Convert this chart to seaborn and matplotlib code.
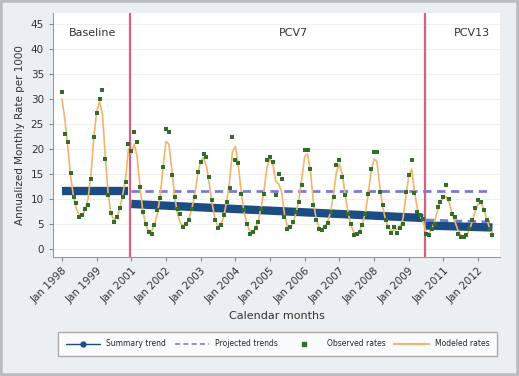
import numpy as np
import pandas as pd
import matplotlib
matplotlib.use("Agg")
import matplotlib.pyplot as plt
import seaborn as sns
from matplotlib.lines import Line2D
from matplotlib.patches import Rectangle

# month index with transition years removed (2000 and mid-2009..mid-2010)
observed = [
    31.4, 23.1, 21.5, 15.2, 10.5, 9.2, 6.5, 6.8, 8.0, 8.8, 14.1, 22.5,
    27.2, 30.1, 31.8, 18.0, 10.8, 7.2, 5.5, 6.5, 8.2, 10.5, 13.5, 21.0,
    19.7, 23.5, 21.5, 12.5, 7.5, 5.1, 3.5, 3.0, 4.8, 7.8, 10.2, 16.5,
    24.1, 23.4, 14.8, 10.5, 8.0, 7.0, 4.5, 5.0, 5.8, 8.0, 10.5, 15.5,
    17.5, 19.0, 18.5, 14.5, 9.8, 5.8, 4.2, 4.8, 6.8, 9.5, 12.2, 22.5,
    17.8, 17.3, 11.1, 7.8, 5.1, 3.1, 3.4, 4.3, 5.5, 8.0, 11.1, 17.8,
    18.5, 17.5, 10.8, 15.1, 14.1, 6.5, 4.1, 4.5, 5.5, 7.5, 9.5, 12.8,
    19.8, 19.9, 16.1, 8.8, 5.8, 4.1, 3.9, 4.5, 5.2, 7.5, 10.5, 16.8,
    17.8, 14.5, 10.8, 7.1, 5.1, 2.8, 3.0, 3.5, 4.8, 7.1, 11.0, 16.1,
    19.5, 19.5, 11.5, 8.8, 5.8, 4.5, 3.3, 4.5, 3.3, 4.2, 5.1, 11.5,
    14.8, 17.8, 11.2, 7.5, 6.8, 6.0,
    3.1, 2.8, 4.0, 5.1, 8.5, 9.5, 10.5, 12.8, 10.1, 7.1, 6.5, 3.1,
    2.5, 2.5, 2.8, 4.0, 5.8, 8.2, 9.8, 9.5, 7.8, 5.8, 4.0, 2.8,
]
modeled = [
    30.0, 26.0, 20.5, 14.5, 10.5, 8.0, 6.8, 6.8, 7.8, 10.0, 14.5, 22.0,
    27.5, 29.5, 27.0, 18.5, 11.0, 7.0, 5.8, 6.3, 8.0, 10.8, 14.0, 20.0,
    19.0, 21.0, 18.5, 12.5, 7.5, 4.8, 3.5, 3.5, 4.8, 7.0, 10.5, 16.5,
    21.5, 21.0, 16.0, 10.5, 7.0, 5.2, 4.6, 5.0, 6.2, 8.2, 11.0, 15.0,
    17.5, 18.3, 16.5, 13.0, 9.0, 6.0, 4.6, 4.8, 6.5, 9.5, 13.5, 19.5,
    20.5, 17.0, 11.5, 7.5, 5.0, 3.6, 3.4, 4.2, 5.8, 8.5, 12.0, 16.5,
    18.0, 17.0, 13.5, 13.0, 11.5, 7.0, 4.5, 4.2, 5.2, 7.2, 9.8, 14.0,
    18.5, 19.0, 15.5, 9.5, 6.0, 4.3, 4.0, 4.5, 5.5, 7.5, 11.0, 15.5,
    17.0, 15.0, 11.0, 7.3, 4.8, 3.3, 3.0, 3.6, 5.0, 7.3, 11.0, 15.5,
    18.0, 17.5, 12.5, 8.5, 5.8, 4.3, 3.6, 3.8, 4.0, 4.5, 6.0, 10.5,
    14.5, 16.0, 11.5, 8.0, 6.5, 5.5,
    3.2, 3.2, 4.0, 5.5, 7.8, 9.5, 10.2, 10.5, 9.3, 7.2, 5.5, 3.8,
    2.8, 2.5, 2.8, 3.8, 5.5, 7.5, 9.0, 9.2, 8.0, 6.0, 4.2, 3.2,
]
month_index = list(range(len(observed)))

summary_x = [0, 23, 24, 125, 126, 149]
summary_y = [11.7, 11.7, 9.0, 6.2, 4.7, 4.3]
summary_seg = ["Baseline", "Baseline", "PCV7", "PCV7", "PCV13", "PCV13"]

projected_x = [24, 149, 126, 149]
projected_y = [11.7, 11.7, 5.8, 5.4]
projected_seg = ["from baseline", "from baseline", "from PCV7", "from PCV7"]

period_breaks = [23.5, 125.5]
period_names = ["Baseline", "PCV7", "PCV13"]
period_label_x = [10.7, 80, 142]

tick_pos = [0, 12, 24, 36, 48, 60, 72, 84, 96, 108, 120, 132, 144]
tick_labels = ["Jan 1998", "Jan 1999", "Jan 2001", "Jan 2002", "Jan 2003",
               "Jan 2004", "Jan 2005", "Jan 2006", "Jan 2007", "Jan 2008",
               "Jan 2009", "Jan 2011", "Jan 2012"]

rates = pd.DataFrame({"month": month_index, "observed": observed, "modeled": modeled})
summary = pd.DataFrame({"month": summary_x, "rate": summary_y, "seg": summary_seg})
projected = pd.DataFrame({"month": projected_x, "rate": projected_y, "seg": projected_seg})

sns.set_style("white")
plt.rcParams["font.family"] = ["DejaVu Sans"]

navy = "#1b4c84"
proj_col = "#7a7ad8"
green = "#2f6f2a"
orange = "#f3b46c"
red = "#d8607e"
bg = "#e9eff2"

fig = plt.figure(figsize=(5.19, 3.76), dpi=100, facecolor=bg)
fig.patches.append(Rectangle((0, 0), 1, 1, transform=fig.transFigure, fill=False,
                             edgecolor="#b8bcbe", linewidth=4, zorder=10))
ax = fig.add_axes([53 / 519, 1 - 257 / 376, 447 / 519, 244 / 376])
ax.set_facecolor("white")

for xb in period_breaks:
    ax.axvline(xb, color=red, linewidth=1.6, zorder=1)

sns.lineplot(data=projected, x="month", y="rate", units="seg", estimator=None,
             color=proj_col, linewidth=2.0, dashes=False, ax=ax, zorder=2,
             linestyle=(0, (3, 2)))
sns.lineplot(data=summary, x="month", y="rate", units="seg", estimator=None,
             color=navy, linewidth=6, ax=ax, zorder=3, solid_capstyle="butt")
sns.lineplot(data=rates, x="month", y="modeled", color=orange, linewidth=1.2,
             ax=ax, zorder=4)
sns.scatterplot(data=rates, x="month", y="observed", color=green, s=11,
                marker="s", linewidth=0, ax=ax, zorder=5)

for name, xp in zip(period_names, period_label_x):
    ax.text(xp, 43.2, name, ha="center", va="center", fontsize=8, color="#333333")

ax.set_xlim(-3.1, 151.6)
ax.set_ylim(-1.6, 47.2)
ax.set_yticks(range(0, 50, 5))
ax.set_xticks(tick_pos)
ax.set_xticklabels(tick_labels, rotation=45, ha="right", rotation_mode="anchor")
ax.tick_params(axis="both", labelsize=7.5, length=3, color="#888888",
               labelcolor="#333333", direction="out", bottom=True, left=True)
ax.yaxis.grid(True, color="#f0f0f0", linewidth=0.8)
ax.set_axisbelow(True)
for s in ["top", "right"]:
    ax.spines[s].set_visible(False)
for s in ["left", "bottom"]:
    ax.spines[s].set_color("#999999")
    ax.spines[s].set_linewidth(0.8)

ax.set_xlabel("Calendar months", fontsize=8, color="#333333", labelpad=4)
ax.set_ylabel("Annualized Monthly Rate per 1000", fontsize=7.5, color="#333333", labelpad=4)

handles = [
    Line2D([], [], color=navy, linewidth=1.0, marker="o", markersize=3.5),
    Line2D([], [], color=proj_col, linewidth=1.2, linestyle=(0, (3, 2))),
    Line2D([], [], color=green, linestyle="none", marker="s", markersize=2.5),
    Line2D([], [], color=orange, linewidth=1.5),
]
labels = ["Summary trend", "Projected trends", "Observed rates", "Modeled rates"]
leg = fig.legend(handles, labels, loc="lower left", ncol=4, mode="expand",
                 bbox_to_anchor=(58 / 519, 1 - 356 / 376, 439 / 519, 23 / 376),
                 fontsize=5.5, handlelength=4.5, frameon=True, fancybox=False,
                 borderaxespad=0, borderpad=1.0, columnspacing=1.0)
leg.get_frame().set_edgecolor("#999999")
leg.get_frame().set_facecolor("white")
leg.get_frame().set_linewidth(1.0)

fig.savefig("out.png", dpi=100, facecolor=bg)
